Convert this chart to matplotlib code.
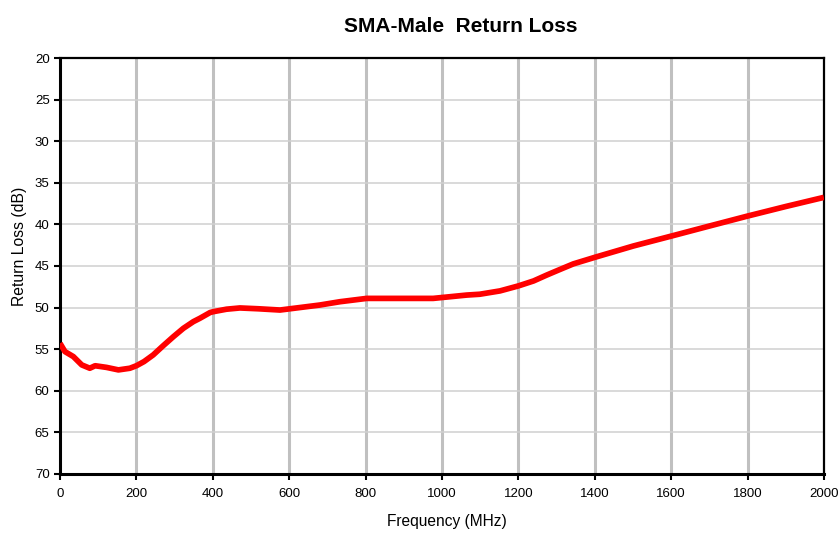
#!/usr/bin/env python3

from matplotlib import pyplot as plt

plt.rcParams['font.family'] = ['Liberation Sans', 'DejaVu Sans']

# Frequency (MHz) and return loss (dB)
freq = [0, 13, 35, 57, 78, 92, 122, 153, 183, 200, 220, 244, 270, 297, 323,
        349, 366, 393, 401, 436, 471, 520, 576, 628, 680, 733, 803, 890, 977,
        1065, 1099, 1152, 1200, 1240, 1274, 1310, 1344, 1401, 1501, 1601,
        1700, 1800, 1900, 2000]
loss = [54.3, 55.3, 55.9, 56.9, 57.3, 57.0, 57.2, 57.5, 57.3, 57.0, 56.5,
        55.7, 54.6, 53.5, 52.5, 51.7, 51.3, 50.6, 50.5, 50.2, 50.05, 50.15,
        50.3, 50.0, 49.7, 49.3, 48.9, 48.9, 48.9, 48.5, 48.4, 48.0, 47.4,
        46.8, 46.1, 45.4, 44.75, 43.95, 42.6, 41.4, 40.2, 39.0, 37.85, 36.75]

x_ticks = list(range(0, 2001, 200))
y_ticks = list(range(20, 71, 5))

fig = plt.figure(figsize=(8.39, 5.33), dpi=100)
ax = fig.add_axes([0.0715, 0.111, 0.9105, 0.78])

ax.plot(freq, loss, color='#ff0000', linewidth=4.1, solid_joinstyle='round',
        solid_capstyle='butt', zorder=3)

ax.set_xlim(0, 2000)
ax.set_ylim(70, 20)
ax.set_xticks(x_ticks)
ax.set_yticks(y_ticks)

for x in x_ticks[1:-1]:
    ax.axvline(x, color='#c0c0c0', linewidth=2.2, zorder=1)
for y in y_ticks[1:-1]:
    ax.axhline(y, color='#d0d0d0', linewidth=1.1, zorder=1)

for side in ['left', 'bottom']:
    ax.spines[side].set_linewidth(2.2)
for side in ['top', 'right']:
    ax.spines[side].set_linewidth(1.6)
for spine in ax.spines.values():
    spine.set_color('black')

ax.tick_params(direction='out', length=4, width=1.5, labelsize=9.5)
ax.tick_params(axis='x', pad=6.5)

ax.set_title('SMA-Male  Return Loss', fontsize=15, fontweight='bold',
             x=0.524, pad=19)
ax.set_xlabel('Frequency (MHz)', fontsize=11.2)
ax.set_ylabel('Return Loss (dB)', fontsize=11.3)
ax.xaxis.set_label_coords(0.507, -0.097)
ax.yaxis.set_label_coords(-0.043, 0.546)

plt.savefig('out.png', dpi=100)
